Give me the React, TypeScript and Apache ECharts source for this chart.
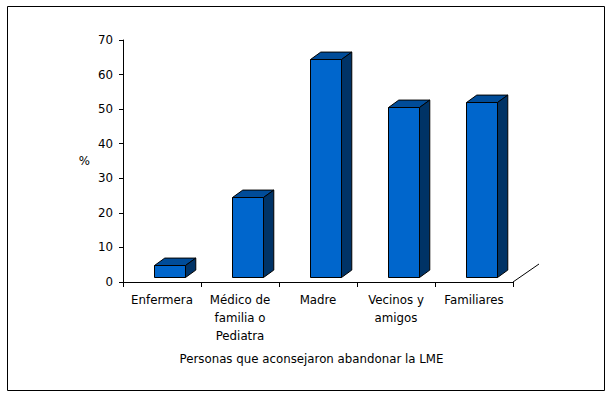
import React, { useEffect, useRef } from 'react';
import * as echarts from 'echarts';

const categories = ['Enfermera', 'Médico de\nfamilia o\nPediatra', 'Madre', 'Vecinos y\namigos', 'Familiares'];
const values = [3.4, 23, 63.1, 49, 50.5];
const yMin = 0;
const yMax = 70;
const yInterval = 10;
const xAxisTitle = 'Personas que aconsejaron abandonar la LME';
const yAxisTitle = '%';

const FRONT = '#0066CC';
const TOP = '#004C99';
const SIDE = '#003366';
const FONT = 'DejaVu Sans';
const FS = 11.8;

const renderItem = (params: any, api: any) => {
  const i = api.value(0);
  const v = api.value(1);
  const base = api.coord([i, 0]);
  const top = api.coord([i, v]);
  const band = api.size([1, 0])[0];
  const w = Math.round(band * 0.401);
  const off = band * 0.092;
  const lift = band * 0.0667;
  const dx = band * 0.132;
  const dy = band * 0.095;
  const x0 = Math.round(base[0] + off - w / 2) + 0.5;
  const x1 = x0 + w;
  const yb = Math.round(base[1] - lift) + 0.5;
  const yt = Math.round(top[1] - lift) + 0.5;
  const stroke = { stroke: '#000', lineWidth: 1 };
  const children: any[] = [
    {
      type: 'polygon',
      shape: { points: [[x0, yt], [x0 + dx, yt - dy], [x1 + dx, yt - dy], [x1, yt]] },
      style: { fill: TOP, ...stroke },
    },
    {
      type: 'polygon',
      shape: { points: [[x1, yt], [x1 + dx, yt - dy], [x1 + dx, yb - dy], [x1, yb]] },
      style: { fill: SIDE, ...stroke },
    },
    {
      type: 'rect',
      shape: { x: x0, y: yt, width: w, height: yb - yt },
      style: { fill: FRONT, ...stroke },
    },
  ];
  if (params.dataIndex === values.length - 1) {
    const ex = base[0] + band / 2;
    const ey = base[1];
    children.push({
      type: 'line',
      shape: { x1: ex, y1: ey, x2: ex + band * (26 / 78), y2: ey - band * (18 / 78) },
      style: { stroke: '#000', lineWidth: 1 },
    });
  }
  return { type: 'group', children };
};

export default function App() {
  const ref = useRef<HTMLDivElement>(null);
  useEffect(() => {
    const chart = echarts.init(ref.current!, null, { renderer: 'svg' });
    chart.setOption({
      animation: false,
      backgroundColor: '#fff',
      textStyle: { fontFamily: FONT },
      grid: { left: 123, right: 101, top: 40, bottom: 116 },
      xAxis: {
        type: 'category',
        data: categories,
        boundaryGap: true,
        axisLine: { show: true, lineStyle: { color: '#000', width: 1 } },
        axisTick: { show: true, length: 5, lineStyle: { color: '#000' } },
        axisLabel: {
          color: '#000',
          fontFamily: FONT,
          fontSize: FS,
          lineHeight: 18,
          margin: 9,
          interval: 0,
        },
        name: xAxisTitle,
        nameLocation: 'middle',
        nameGap: 71,
        nameTextStyle: { color: '#000', fontFamily: FONT, fontSize: FS, padding: [0, 13, 0, 0] },
        splitLine: { show: false },
      },
      yAxis: {
        type: 'value',
        min: yMin,
        max: yMax,
        interval: yInterval,
        axisLine: { show: true, lineStyle: { color: '#000', width: 1 } },
        axisTick: { show: true, length: 4, lineStyle: { color: '#000' } },
        axisLabel: { color: '#000', fontFamily: FONT, fontSize: FS, margin: 10 },
        splitLine: { show: false },
        name: yAxisTitle,
        nameLocation: 'middle',
        nameRotate: 0,
        nameGap: 33,
        nameTextStyle: { color: '#000', fontFamily: FONT, fontSize: FS },
      },
      series: [
        {
          type: 'custom',
          data: values.map((v, i) => [i, v]),
          encode: { x: 0, y: 1 },
          renderItem,
          clip: false,
        },
      ],
      graphic: [
        {
          type: 'rect',
          shape: { x: 7.5, y: 6.5, width: 597, height: 384 },
          style: { fill: 'none', stroke: '#000', lineWidth: 1 },
          silent: true,
        },
      ],
    });
    return () => chart.dispose();
  }, []);
  return (
    <div
      ref={ref}
      style={{ position: 'absolute', left: 0, top: 0, width: 614, height: 398 }}
    />
  );
}
